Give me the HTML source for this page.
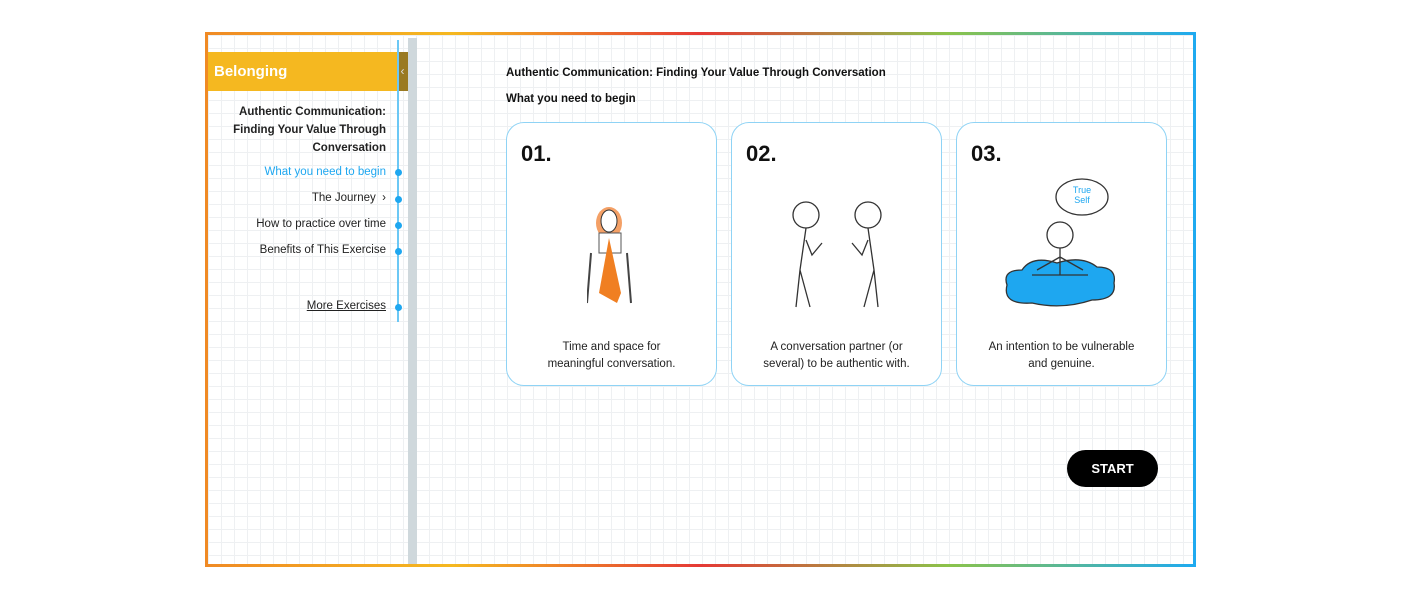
<!DOCTYPE html>
<html><head><style>
body{margin:0;width:1414px;height:596px;background:#fff;position:relative;font-family:"Liberation Sans",sans-serif;overflow:hidden}
.frame{position:absolute;left:205px;top:32px;width:991px;height:535px;background:linear-gradient(90deg,#f08a24,#f5b820 25%,#e53935 50%,#8bc34a 75%,#1eaaf1)}
.inner{position:absolute;left:208px;top:35px;width:985px;height:529px;background-color:#fff;background-image:linear-gradient(#eef0f2 1px,transparent 1px),linear-gradient(90deg,#eef0f2 1px,transparent 1px);background-size:13px 13px}
.abs{position:absolute}
.side{text-align:right;font-size:11.5px;color:#222;right:0}
.dot{position:absolute;left:395px;width:7px;height:7px;border-radius:50%;background:#1ea7f0}
.card{position:absolute;top:122px;width:209px;height:262px;border:1.5px solid #8fd3f5;border-radius:18px;background:#fff}
.num{position:absolute;left:14px;top:18px;font-size:22px;font-weight:bold;color:#111}
.cap{position:absolute;left:0;right:0;top:216px;text-align:center;font-size:11.5px;line-height:17px;color:#222}
</style></head><body>
<div class="frame"></div>
<div class="inner"></div>
<div class="abs" style="left:208px;top:52px;width:200px;height:39px;background:#f5b820"></div>
<div class="abs" style="left:397px;top:52px;width:11px;height:39px;background:#9a7a22;color:#ddd;font-size:12px;line-height:39px;text-align:center">‹</div>
<div class="abs" style="left:214px;top:63px;color:#fff;font-weight:bold;font-size:15px">Belonging</div>
<div class="abs" style="left:397px;top:40px;width:1.5px;height:282px;background:#6cc8f5"></div>
<div class="abs" style="left:408px;top:38px;width:9px;height:526px;background:#cfd8dc"></div>
<div class="abs" style="left:210px;top:103px;width:176px;text-align:right;font-weight:bold;font-size:11.5px;line-height:18px;color:#222">Authentic Communication: Finding Your Value Through Conversation</div>
<div class="abs" style="left:210px;width:176px;text-align:right;font-size:11.5px;top:166px;color:#1ea7f0">What you need to begin</div>
<div class="abs" style="left:210px;width:176px;text-align:right;font-size:11.5px;top:192px;color:#222">The Journey &nbsp;›</div>
<div class="abs" style="left:210px;width:176px;text-align:right;font-size:11.5px;top:218px;color:#222">How to practice over time</div>
<div class="abs" style="left:210px;width:176px;text-align:right;font-size:11.5px;top:244px;color:#222">Benefits of This Exercise</div>
<div class="abs" style="left:210px;width:176px;text-align:right;font-size:11.5px;top:300px;color:#222;text-decoration:underline">More Exercises</div>
<div class="dot" style="top:169px"></div><div class="dot" style="top:196px"></div><div class="dot" style="top:222px"></div><div class="dot" style="top:248px"></div><div class="dot" style="top:304px"></div>
<div class="abs" style="left:506px;top:67px;font-weight:bold;font-size:11.5px;color:#111">Authentic Communication: Finding Your Value Through Conversation</div>
<div class="abs" style="left:506px;top:93px;font-weight:bold;font-size:11.5px;color:#111">What you need to begin</div>
<div class="card" style="left:506px"><div class="num">01.</div>
<svg class="abs" style="left:80px;top:80px" width="60" height="105"><ellipse cx="22" cy="20" rx="13" ry="16" fill="#f4a066"/><ellipse cx="22" cy="18" rx="8" ry="11" fill="#fff" stroke="#333"/><rect x="12" y="30" width="22" height="20" fill="#fff" stroke="#555"/><path d="M22 35 L12 90 L30 100 L34 90 Z" fill="#f07f22"/><path d="M4 50 L0 100 M40 50 L44 100" stroke="#444" stroke-width="2"/></svg>
<div class="cap">Time and space for<br>meaningful conversation.</div></div>
<div class="card" style="left:731px"><div class="num">02.</div>
<svg class="abs" style="left:50px;top:72px" width="110" height="115" fill="none" stroke="#333" stroke-width="1.3"><circle cx="24" cy="20" r="13"/><circle cx="86" cy="20" r="13"/><path d="M24 33 L18 75 L14 112 M18 75 L28 112 M24 45 L30 60 L40 48"/><path d="M86 33 L92 75 L96 112 M92 75 L82 112 M86 45 L80 60 L70 48"/></svg>
<div class="cap">A conversation partner (or<br>several) to be authentic with.</div></div>
<div class="card" style="left:956px"><div class="num">03.</div>
<svg class="abs" style="left:45px;top:52px" width="120" height="150" fill="none" stroke="#333" stroke-width="1.3"><ellipse cx="80" cy="22" rx="26" ry="18" fill="#fff"/><text x="80" y="18" font-size="9" fill="#1ea7f0" stroke="none" text-anchor="middle" font-family="Liberation Sans">True</text><text x="80" y="28" font-size="9" fill="#1ea7f0" stroke="none" text-anchor="middle" font-family="Liberation Sans">Self</text><path d="M5 110 Q0 95 20 95 Q30 80 55 88 Q80 80 95 92 Q115 92 112 108 Q115 125 90 125 Q60 135 30 128 Q0 130 5 110Z" fill="#1ea7f0"/><circle cx="58" cy="60" r="13"/><path d="M58 73 L58 100 M58 82 L35 95 M58 82 L81 95 M30 100 L86 100"/></svg>
<div class="cap">An intention to be vulnerable<br>and genuine.</div></div>
<div class="abs" style="left:1067px;top:450px;width:91px;height:37px;border-radius:19px;background:#000;color:#fff;font-weight:bold;font-size:13px;line-height:37px;text-align:center">START</div>
</body></html>
